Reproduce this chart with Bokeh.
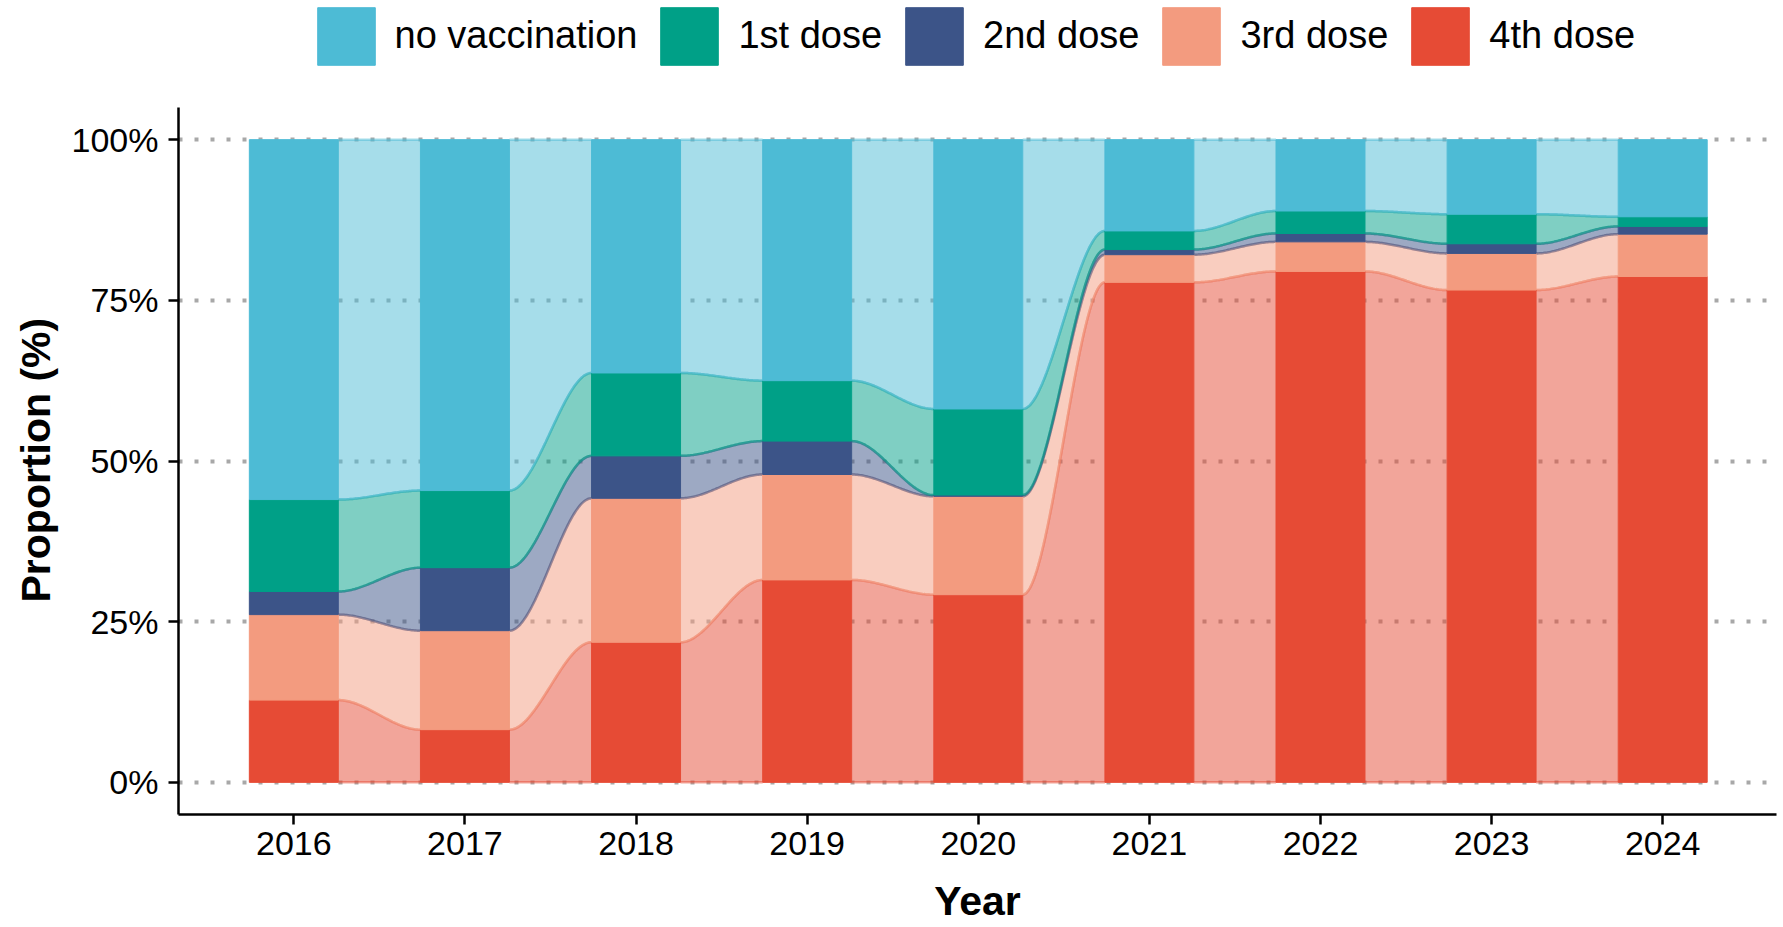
import numpy as np
from bokeh.plotting import figure
from bokeh.models import Range1d, FixedTicker, Legend, LegendItem, Title
from bokeh.embed import file_html
from bokeh.resources import INLINE

# ---------------- data ----------------
years = [2016, 2017, 2018, 2019, 2020, 2021, 2022, 2023, 2024]
categories = ["no vaccination", "1st dose", "2nd dose", "3rd dose", "4th dose"]
no_vaccination = [56.0, 54.6, 36.3, 37.5, 41.9, 14.2, 11.1, 11.6, 12.0]
dose_1st = [14.3, 12.0, 12.9, 9.4, 13.4, 2.9, 3.5, 4.6, 1.5]
dose_2nd = [3.6, 9.8, 6.6, 5.2, 0.2, 0.8, 1.3, 1.5, 1.2]
dose_3rd = [13.3, 15.4, 22.4, 16.4, 15.3, 4.3, 4.6, 5.7, 6.6]
dose_4th = [12.8, 8.2, 21.8, 31.5, 29.2, 77.8, 79.5, 76.6, 78.7]
y_ticks = [0, 25, 50, 75, 100]
y_tick_labels = ["0%", "25%", "50%", "75%", "100%"]
palette = ["#4DBBD5", "#00A087", "#3C5488", "#F39B7F", "#E64B35"]

series = {
    "no vaccination": no_vaccination,
    "1st dose": dose_1st,
    "2nd dose": dose_2nd,
    "3rd dose": dose_3rd,
    "4th dose": dose_4th,
}
colors = dict(zip(categories, palette))
stack_order = ["4th dose", "3rd dose", "2nd dose", "1st dose", "no vaccination"]

# cumulative bottoms / tops
bottoms, tops = {}, {}
running = np.zeros(len(years))
for c in stack_order:
    vals = np.array(series[c], dtype=float)
    bottoms[c] = running.copy()
    tops[c] = running + vals
    running = running + vals

BAR_W = 0.52
FONT = "Liberation Sans"

# frame spans from the canvas top down to the x axis; the axis itself is
# bounded to the -5..105 panel range, the space above holds the legend
p = figure(width=1783, height=927,
           x_range=Range1d(2015.326, 2024.665), y_range=Range1d(-5, 121.65),
           output_backend="svg", toolbar_location=None,
           min_border_left=178, min_border_right=7,
           min_border_top=0, min_border_bottom=113)
p.outline_line_color = None
p.background_fill_color = "white"
p.border_fill_color = "white"

# ---------------- flows ----------------
t = np.linspace(0, 1, 60)
s = 3 * t ** 2 - 2 * t ** 3
for i in range(len(years) - 1):
    xa = years[i] + BAR_W / 2
    xb = years[i + 1] - BAR_W / 2
    xs = xa + (xb - xa) * t
    for c in stack_order:
        lo = bottoms[c][i] + (bottoms[c][i + 1] - bottoms[c][i]) * s
        hi = tops[c][i] + (tops[c][i + 1] - tops[c][i]) * s
        p.varea(x=xs, y1=lo, y2=hi, fill_color=colors[c], fill_alpha=0.5)
        p.line(x=xs, y=lo, line_color=colors[c], line_alpha=0.5, line_width=2.5)
        p.line(x=xs, y=hi, line_color=colors[c], line_alpha=0.5, line_width=2.5)

# ---------------- bars ----------------
bar_renderers = {}
for c in stack_order:
    r = p.vbar(x=years, width=BAR_W, bottom=bottoms[c], top=tops[c],
               fill_color=colors[c], line_color=colors[c], line_width=1)
    bar_renderers[c] = r

# ---------------- axes ----------------
p.xaxis.ticker = FixedTicker(ticks=years)
p.yaxis.ticker = FixedTicker(ticks=y_ticks)
p.yaxis.bounds = (-5, 105)
p.yaxis.major_label_overrides = {v: l for v, l in zip(y_ticks, y_tick_labels)}
for ax in (p.xaxis[0], p.yaxis[0]):
    ax.axis_line_width = 2.5
    ax.axis_line_color = "black"
    ax.major_tick_line_width = 2.5
    ax.major_tick_line_color = "black"
    ax.major_tick_in = 0
    ax.major_tick_out = 10
    ax.minor_tick_line_color = None
    ax.major_label_text_font = FONT
    ax.major_label_text_font_size = "34px"
    ax.major_label_text_color = "black"
    ax.axis_label_text_font = FONT
    ax.axis_label_text_font_style = "bold"
    ax.axis_label_text_font_size = "41px"
    ax.axis_label_text_color = "black"
p.xaxis.major_label_standoff = 7
p.yaxis.major_label_standoff = 10
p.xaxis.axis_label = "Year"
p.xaxis.axis_label_standoff = 20

# y title placed along the 0-100% panel (not the whole frame)
p.add_layout(Title(text="Proportion (%)", align="left", offset=212,
                   vertical_align="top",
                   text_font=FONT, text_font_style="bold", text_font_size="41px",
                   text_color="black", standoff=16), "left")

p.xgrid.visible = False
p.ygrid.grid_line_color = "#A8A8A8"
p.ygrid.grid_line_width = 4
p.ygrid.grid_line_dash = "4 12"

# ---------------- legend ----------------
legend = Legend(
    items=[LegendItem(label=c, renderers=[bar_renderers[c]]) for c in categories],
    location=(131.5, 742.5), orientation="horizontal",
    glyph_width=72, glyph_height=72, label_standoff=13, spacing=16,
    padding=0, margin=0, border_line_color=None, background_fill_alpha=0,
    label_text_font=FONT, label_text_font_size="38px", label_text_color="black",
)
p.add_layout(legend)

open("out.html", "w").write(file_html(p, INLINE))
